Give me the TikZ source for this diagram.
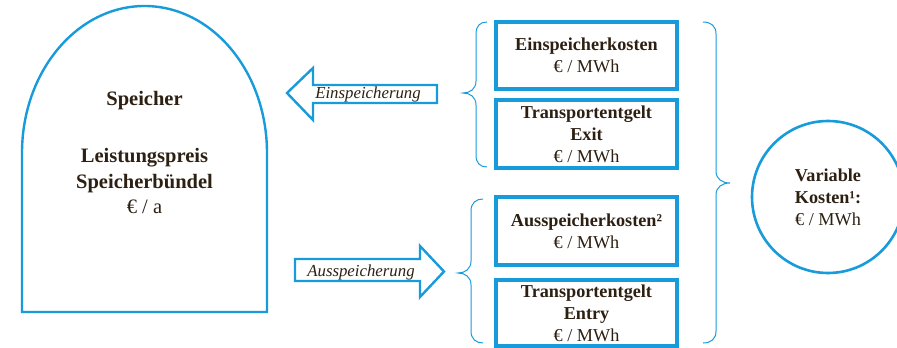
\documentclass[tikz,border=0pt]{standalone}
\usepackage{fontspec}
\setmainfont{Liberation Serif}
\definecolor{rblue}{RGB}{24,155,218}
\definecolor{ink}{RGB}{45,32,18}
\begin{document}
\begin{tikzpicture}[x=1pt,y=-1pt,
  outline/.style={draw=rblue,line width=2.4pt},
  costbox/.style={draw=rblue,line width=3.3pt,minimum width=181pt,inner sep=0pt,
    align=center,text=ink,font=\fontsize{18.2}{22}\selectfont},
  bracepath/.style={draw=rblue,line width=1pt},
  arrowlabel/.style={text=ink,font=\fontsize{16.8}{19}\selectfont\itshape,inner sep=0pt},
  plain/.style={text=ink,align=center,inner sep=0pt,font=\fontsize{18.2}{22}\selectfont},
  bigtext/.style={plain,font=\fontsize{20.5}{25.5}\selectfont}]
\useasboundingbox (0,0) rectangle (897,348);

% storage outline: straight walls with an elliptic dome
\draw[outline] (22,312) -- (22,153)
  arc[start angle=180,end angle=0,x radius=122.5pt,y radius=147pt]
  -- (267,312) -- cycle;
\node[bigtext] (speicher) at (144.5,101) {\textbf{Speicher}};
\node[bigtext] (preis) at (144.5,181) {\textbf{Leistungspreis}\\\textbf{Speicherbündel}\\€ / a};

% block arrows
\draw[outline] (287,93) -- (313,68) -- (313,85) -- (437,85) -- (437,103)
  -- (313,103) -- (313,120) -- cycle;
\node[arrowlabel] (ein) at (368,94) {Einspeicherung};
\draw[outline] (295,259) -- (420,259) -- (420,246) -- (444,271.5) -- (420,297)
  -- (420,281) -- (295,281) -- cycle;
\node[arrowlabel] (aus) at (361,272) {Ausspeicherung};

% cost boxes
\node[costbox,minimum height=67pt] (k1) at (586.5,55.5)
  {\textbf{Einspeicherkosten}\\€ / MWh};
\node[costbox,minimum height=68pt] (k2) at (586.5,134)
  {\textbf{Transportentgelt}\\\textbf{Exit}\\€ / MWh};
\node[costbox,minimum height=68pt] (k3) at (586.5,231)
  {\textbf{Ausspeicherkosten²}\\€ / MWh};
\node[costbox,minimum height=66pt] (k4) at (586.5,313)
  {\textbf{Transportentgelt}\\\textbf{Entry}\\€ / MWh};

% curly braces
\draw[bracepath] (487,22) .. controls (480,22) and (476,26) .. (476,34)
  -- (476,81) .. controls (476,89) and (470,93) .. (463,93)
  .. controls (470,93) and (476,97) .. (476,105)
  -- (476,155) .. controls (476,163) and (480,167) .. (487,167);
\draw[bracepath] (483,199) .. controls (476,199) and (471,203) .. (471,211)
  -- (471,261) .. controls (471,269) and (465,273) .. (458,273)
  .. controls (465,273) and (471,277) .. (471,285)
  -- (471,331) .. controls (471,339) and (476,343) .. (483,343);
\draw[bracepath] (703,22) .. controls (711,22) and (716,26) .. (716,34)
  -- (716,171) .. controls (716,179) and (722,183) .. (730,183)
  .. controls (722,183) and (716,187) .. (716,195)
  -- (716,331) .. controls (716,339) and (711,343) .. (703,343);

% total variable cost
\node[circle,draw=rblue,line width=2.6pt,minimum size=152pt,inner sep=0pt,
  plain] (var) at (828,197) {\textbf{Variable}\\\textbf{Kosten¹:}\\€ / MWh};
\end{tikzpicture}
\end{document}
